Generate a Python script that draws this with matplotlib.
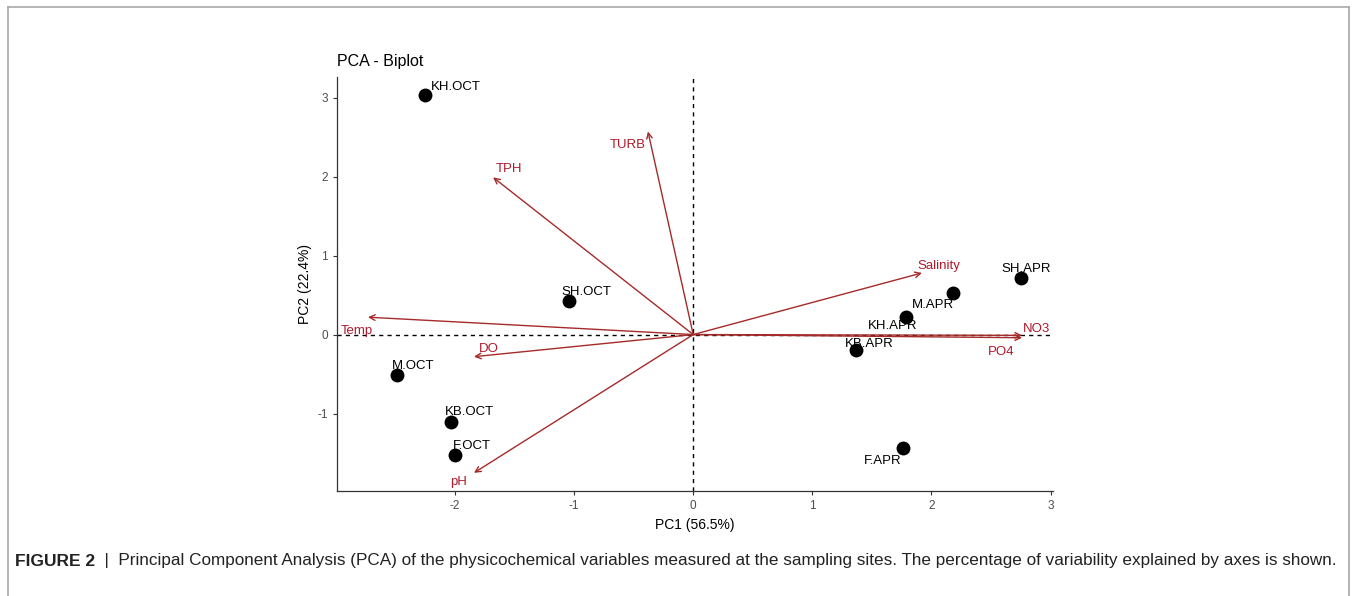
import matplotlib
matplotlib.use("Agg")
import matplotlib.pyplot as plt
from matplotlib.lines import Line2D

plt.rcParams['font.family'] = ['Liberation Sans', 'DejaVu Sans']
plt.rcParams['axes.unicode_minus'] = False

# ---- data ----
sites = ['KH.OCT', 'SH.OCT', 'M.OCT', 'KB.OCT', 'F.OCT',
         'SH.APR', 'M.APR', 'KH.APR', 'KB.APR', 'F.APR']
site_pc1 = [-2.25, -1.04, -2.49, -2.03, -2.00, 2.75, 2.18, 1.79, 1.37, 1.76]
site_pc2 = [3.03, 0.43, -0.51, -1.11, -1.53, 0.71, 0.52, 0.22, -0.19, -1.44]

variables = ['TURB', 'TPH', 'Salinity', 'NO3', 'PO4', 'Temp', 'DO', 'pH']
var_pc1 = [-0.38, -1.68, 1.92, 2.76, 2.76, -2.73, -1.84, -1.84]
var_pc2 = [2.57, 1.99, 0.78, -0.01, -0.04, 0.22, -0.28, -1.75]

xticks = [-2, -1, 0, 1, 2, 3]
yticks = [-1, 0, 1, 2, 3]
title = 'PCA - Biplot'
xlabel = 'PC1 (56.5%)'
ylabel = 'PC2 (22.4%)'
caption_bold = 'FIGURE 2'
caption_rest = ('  |  Principal Component Analysis (PCA) of the physicochemical variables '
                'measured at the sampling sites. The percentage of variability explained by axes is shown.')

# label offsets (pixels) - layout only
site_off = [(31, 8), (17, 9), (17, 9), (18, 10), (17, 9),
            (5, 9), (-20, -12), (-14, -9), (13, 6), (-20, -13)]
var_off = [(-20, -13), (16, 8), (17, 7), (14, 6), (-21, -14), (-11, -14), (15, 8), (-15, -9)]

W, H = 1356, 596
fig = plt.figure(figsize=(W / 100, H / 100), dpi=100)
ax = fig.add_axes([337 / W, 1 - 491 / H, (1053 - 337) / W, (491 - 77) / H])

ax.set_xlim(-2.99, 3.02)
ax.set_ylim(-1.98, 3.26)

ax.axhline(0, color='black', ls=(0, (3, 3)), lw=1.0, zorder=1)
ax.axvline(0, color='black', ls=(0, (3, 3)), lw=1.0, zorder=1)

arrow_col = '#A52A2A'
text_col = '#B2182B'
for name, x, y, off in zip(variables, var_pc1, var_pc2, var_off):
    ax.annotate('', xy=(x, y), xytext=(0, 0),
                arrowprops=dict(arrowstyle='->', color=arrow_col, lw=1.0,
                                shrinkA=0, shrinkB=0, mutation_scale=10),
                zorder=2)
    ax.annotate(name, xy=(x, y), xytext=off, textcoords='offset pixels',
                ha='center', va='center', color=text_col, fontsize=9.5, zorder=4)

ax.scatter(site_pc1, site_pc2, s=100, color='black', zorder=3, linewidths=0)
for name, x, y, off in zip(sites, site_pc1, site_pc2, site_off):
    ax.annotate(name, xy=(x, y), xytext=off, textcoords='offset pixels',
                ha='center', va='center', color='black', fontsize=9.5, zorder=4)

for s in ['top', 'right']:
    ax.spines[s].set_visible(False)
for s in ['left', 'bottom']:
    ax.spines[s].set_linewidth(0.9)
    ax.spines[s].set_color('#333333')
ax.set_xticks(xticks)
ax.set_yticks(yticks)
ax.tick_params(axis='both', colors='#333333', labelcolor='#4D4D4D',
               labelsize=8.5, length=3, width=0.8)
ax.set_xlabel(xlabel, fontsize=10, labelpad=4)
ax.set_ylabel(ylabel, fontsize=10, labelpad=4)
ax.set_title(title, fontsize=11.5, loc='left', pad=8, x=0.0)

# figure frame
fc = '#A8A8A8'
fig.add_artist(Line2D([8 / W, 8 / W], [0, 1 - 7 / H], color=fc, lw=1.2, transform=fig.transFigure))
fig.add_artist(Line2D([8 / W, 1349 / W], [1 - 7 / H, 1 - 7 / H], color=fc, lw=1.2, transform=fig.transFigure))
fig.add_artist(Line2D([1349 / W, 1349 / W], [0, 1 - 7 / H], color=fc, lw=1.2, transform=fig.transFigure))

# caption
t1 = fig.text(15 / W, 1 - 561 / H, caption_bold, fontsize=12.5, fontweight='bold',
              va='center', ha='left', color='#222222')
fig.canvas.draw()
bb = t1.get_window_extent()
fig.text(bb.x1 / W, 1 - 561 / H, caption_rest, fontsize=12.35, va='center', ha='left',
         color='#222222')

fig.savefig('out.png', dpi=100)
